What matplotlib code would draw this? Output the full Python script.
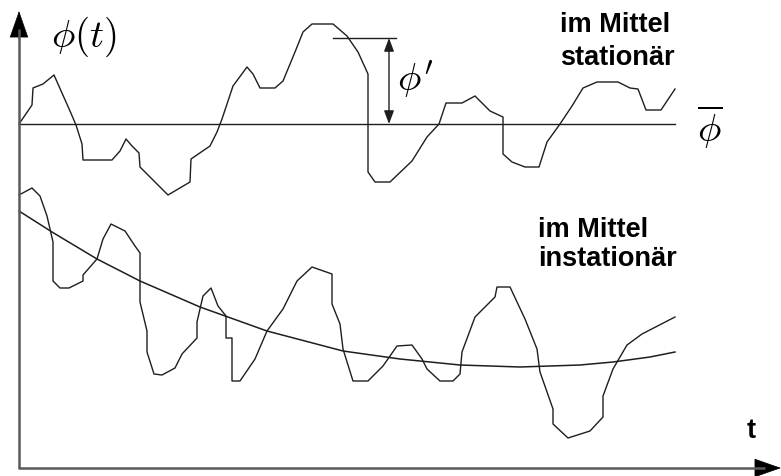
import numpy as np
import matplotlib
matplotlib.use("Agg")
import matplotlib.pyplot as plt
from matplotlib.patches import FancyArrowPatch

plt.rcParams["mathtext.fontset"] = "cm"

# zeitlicher Verlauf, im Mittel stationär (t, phi in Bildkoordinaten)
t_stat = [19, 32, 33, 43, 54, 70, 76, 82, 83, 112, 120, 126, 132, 139, 140, 168, 190, 191,
          210, 217, 222, 233, 247, 253, 260, 275, 283, 295, 303, 312, 333, 347, 358, 368,
          368, 375, 390, 412, 427, 439, 446, 462, 475, 490, 503, 503, 512, 525, 539, 547,
          560, 572, 583, 597, 618, 630, 638, 646, 661, 675]
phi_stat = [125, 106, 89, 85, 76, 112, 126, 145, 161, 161, 152, 140, 147, 154, 168, 196, 183, 160,
            147, 133, 120, 87, 68, 75, 89, 89, 82, 53, 33, 25, 25, 37, 53, 75,
            173, 183, 183, 162, 138, 125, 104, 104, 97, 112, 118, 155, 163, 168, 168, 143,
            125, 107, 89, 83, 83, 89, 90, 111, 111, 90]
phi_mean = 125
t_mean = [19, 675]

# zeitlicher Verlauf, im Mittel instationär
t_inst = [19, 32, 40, 47, 53, 53, 60, 69, 83, 83, 97, 103, 111, 125, 135, 140, 140, 147,
          147, 154, 162, 175, 182, 197, 197, 203, 211, 218, 226, 226, 232, 232, 240, 255,
          267, 283, 297, 312, 332, 332, 340, 343, 353, 368, 383, 397, 412, 422, 427, 440,
          453, 460, 462, 475, 495, 497, 510, 525, 537, 540, 553, 553, 568, 590, 603, 603,
          613, 627, 642, 675]
phi_inst = [196, 189, 197, 217, 243, 282, 289, 289, 282, 276, 260, 240, 225, 232, 247, 254, 303, 332,
            353, 375, 376, 369, 355, 339, 323, 297, 289, 307, 317, 339, 339, 382, 382, 360,
            332, 310, 282, 268, 275, 305, 325, 350, 382, 382, 367, 347, 346, 360, 370, 382,
            382, 375, 353, 318, 298, 288, 288, 320, 350, 373, 410, 425, 439, 432, 418, 397,
            370, 346, 335, 318]

# gleitender Mittelwert (Trend)
t_trend = [19, 52, 97, 140, 200, 267, 343, 400, 460, 520, 580, 613, 650, 675]
phi_trend = [212, 233, 260, 282, 308, 332, 352, 360, 366, 368, 366, 363, 358, 353]

# Schwankung phi' zwischen Mittelwert und Spitze
t_fluct = 389
phi_fluct = [39, 125]

line_col = "#1e1e1e"
axis_col = "#5a5a5a"

fig = plt.figure(figsize=(7.81, 4.77), dpi=100)
ax = fig.add_axes([0, 0, 1, 1])
ax.set_xlim(0, 781)
ax.set_ylim(477, 0)
ax.axis("off")

ax.plot(t_stat, phi_stat, color=line_col, lw=1.0)
ax.plot(t_mean, [phi_mean, phi_mean], color=line_col, lw=1.0)
ax.plot(t_inst, phi_inst, color=line_col, lw=1.0)
ax.plot(t_trend, phi_trend, color=line_col, lw=1.1)

# Koordinatenachsen: graue Linie, schwarze Pfeilspitze
ax.plot([19, 19], [469, 30], color=axis_col, lw=1.8, solid_capstyle="butt")
ax.plot([18, 765], [469, 469], color=axis_col, lw=1.8, solid_capstyle="butt")
for start, end in [((19, 40), (19, 12)), ((758, 469), (781, 469))]:
    ax.add_patch(FancyArrowPatch(start, end, arrowstyle="-|>,head_length=1.0,head_width=0.35",
                                 mutation_scale=18, color="black", lw=0.5,
                                 shrinkA=0, shrinkB=0))

# Doppelpfeil fuer phi'
ax.plot([333, 396], [phi_fluct[0], phi_fluct[0]], color=line_col, lw=1.0)
ax.add_patch(FancyArrowPatch((t_fluct, phi_fluct[1]), (t_fluct, phi_fluct[0]),
                             arrowstyle="<|-|>,head_length=0.8,head_width=0.3",
                             mutation_scale=10, color=line_col, lw=1.0,
                             shrinkA=0, shrinkB=0))

ax.text(84, 37, r"$\phi(t)$", fontsize=28, ha="center", va="center")
ax.text(415, 79, r"$\phi'$", fontsize=28, ha="center", va="center")
ax.text(710, 127, r"$\overline{\phi}$", fontsize=28, ha="center", va="center")

lab = dict(fontsize=19.5, fontweight="bold", family="Liberation Sans", ha="left", va="center")
ax.text(560, 25, "im Mittel", **lab)
ax.text(560, 58, "stationär", **lab)
ax.text(538, 230, "im Mittel", **lab)
ax.text(538, 259, "instationär", **lab)
ax.text(751, 431, "t", fontsize=19.5, fontweight="bold", family="Liberation Sans",
        ha="center", va="center")

fig.savefig("out.png", dpi=100)
